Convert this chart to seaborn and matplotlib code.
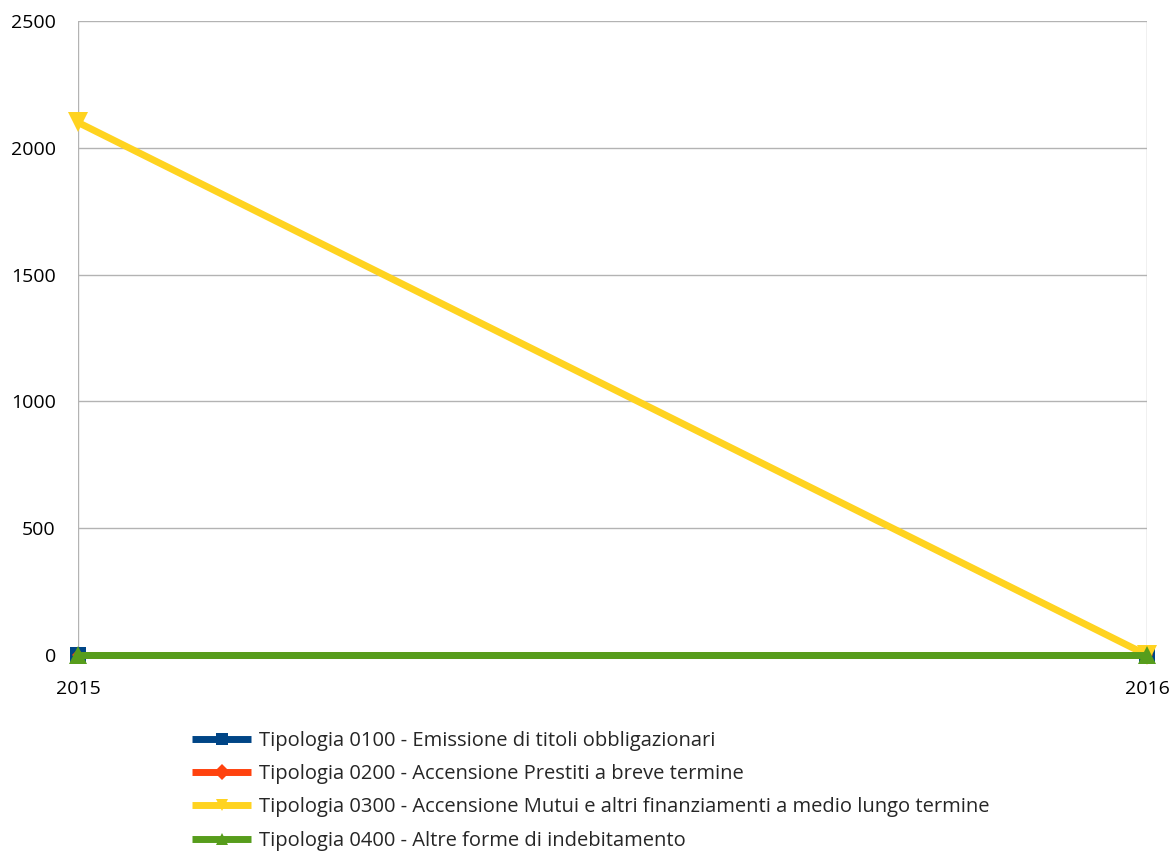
import numpy as np
import pandas as pd
import seaborn as sns
import matplotlib.pyplot as plt

# data
anni = [2015, 2016]
tipologia_0100 = [0, 0]
tipologia_0200 = [0, 0]
tipologia_0300 = [2100, 0]
tipologia_0400 = [0, 0]
etichette = ["Tipologia 0100 - Emissione di titoli obbligazionari",
             "Tipologia 0200 - Accensione Prestiti a breve termine",
             "Tipologia 0300 - Accensione Mutui e altri finanziamenti a medio lungo termine",
             "Tipologia 0400 - Altre forme di indebitamento"]
colori = ["#004586", "#ff420e", "#ffd320", "#579d1c"]
marker = ["s", "D", "v", "^"]
msize = [11, 6, 14, 13]

sns.set_style("white")
plt.rcParams['font.family'] = ['Open Sans', 'DejaVu Sans']

fig = plt.figure(figsize=(11.72, 8.51), dpi=100)
ax = fig.add_axes([0.0666, 0.2303, 0.9121, 0.745])

serie = [tipologia_0100, tipologia_0200, tipologia_0300, tipologia_0400]
for valori, lab, c, m, s in zip(serie, etichette, colori, marker, msize):
    df = pd.DataFrame({"anno": anni, "valore": valori})
    sns.lineplot(data=df, x="anno", y="valore", ax=ax, color=c, linewidth=5,
                 marker=m, markersize=s, markeredgewidth=0, label=lab,
                 clip_on=False, zorder=3, solid_capstyle="butt")

ax.set_xlim(2015, 2016)
ax.set_ylim(0, 2500)
ax.set_xticks(anni)
ax.set_xticklabels([str(a) for a in anni])
ax.set_yticks(np.arange(0, 2501, 500))
ax.grid(True, color="#b3b3b3", linewidth=1)
for sp in ax.spines.values():
    sp.set_visible(False)
ax.tick_params(axis="both", length=0, labelsize=14, colors="black")
ax.tick_params(axis="x", pad=18)
ax.tick_params(axis="y", pad=16)
ax.set_xlabel("")
ax.set_ylabel("")

leg = ax.legend(loc="upper left", bbox_to_anchor=(0.0895, -0.091), frameon=False,
                fontsize=14.5, handlelength=2.95, labelspacing=0.66, handletextpad=0.4)
for h in leg.legend_handles:
    h.set_markersize(8)
    h.set_solid_capstyle("butt")

fig.savefig("out.png", dpi=100)
